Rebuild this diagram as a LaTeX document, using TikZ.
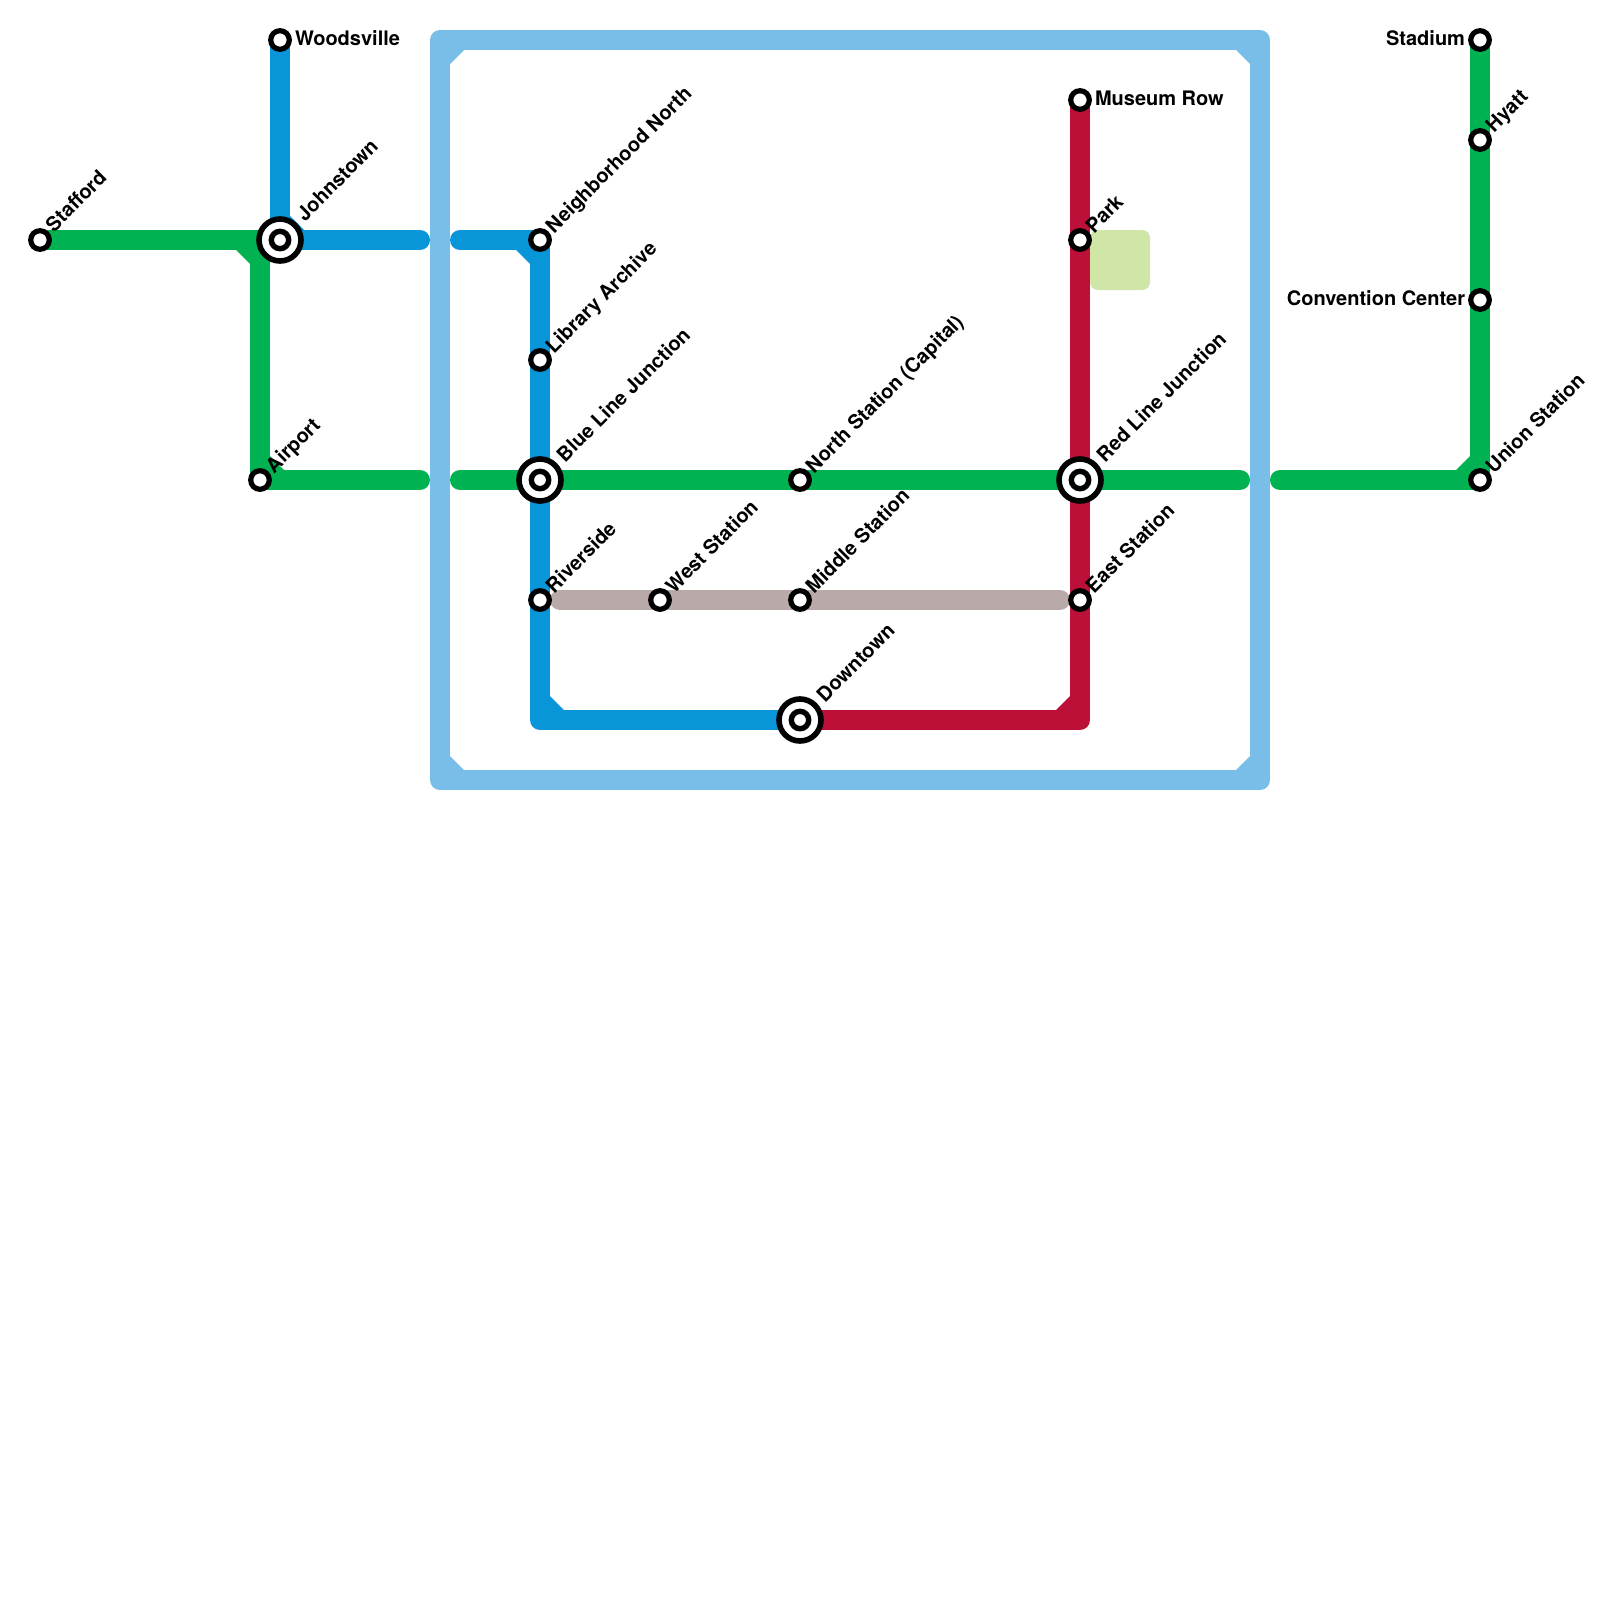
\documentclass[tikz,border=0pt]{standalone}
\usepackage{fontspec}
\setmainfont{TeX Gyre Heros}
\definecolor{cBlue}{HTML}{0996D9}
\definecolor{cLoop}{HTML}{79BDE9}
\definecolor{cGreen}{HTML}{00B251}
\definecolor{cRed}{HTML}{BD1038}
\definecolor{cGrey}{HTML}{B9AAA9}
\definecolor{cPark}{HTML}{D0E6A6}
\pgfdeclarelayer{lines}
\pgfsetlayers{lines,main}
\tikzset{
  x=1pt,y=-1pt,
  station/.style={circle,draw=black,fill=white,line width=5.2pt,minimum size=18.6pt,inner sep=0pt,outer sep=0pt},
  hubouter/.style={circle,draw=black,fill=white,line width=5.6pt,minimum size=42pt,inner sep=0pt,outer sep=0pt},
  hubinner/.style={circle,draw=black,fill=white,line width=5.4pt,minimum size=17.4pt,inner sep=0pt,outer sep=0pt},
  lab/.style={inner sep=0pt,outer sep=0pt,font=\fontsize{20}{24}\selectfont\bfseries,text=black},
  labdiag/.style={lab,rotate=45,anchor=base west},
  labright/.style={lab,anchor=base west},
  lableft/.style={lab,anchor=base east},
  route/.style={line width=20pt,line join=round,line cap=round},
}
\begin{document}
\begin{tikzpicture}
\useasboundingbox (0,0) rectangle (1600,1600);
% stations
\node[station] (stafford) at (40,240) {};
\node[station] (woodsville) at (280,40) {};
\node[station] (airport) at (260,480) {};
\node[hubouter] (johnstown) at (280,240) {};
\node[hubinner] (johnstownI) at (280,240) {};
\node[station] (neighborhood) at (540,240) {};
\node[station] (library) at (540,360) {};
\node[hubouter] (blueJ) at (540,480) {};
\node[hubinner] (blueJI) at (540,480) {};
\node[station] (riverside) at (540,600) {};
\node[station] (west) at (660,600) {};
\node[station] (north) at (800,480) {};
\node[station] (middle) at (800,600) {};
\node[hubouter] (downtown) at (800,720) {};
\node[hubinner] (downtownI) at (800,720) {};
\node[station] (museum) at (1080,100) {};
\node[station] (park) at (1080,240) {};
\node[hubouter] (redJ) at (1080,480) {};
\node[hubinner] (redJI) at (1080,480) {};
\node[station] (east) at (1080,600) {};
\node[station] (stadium) at (1480,40) {};
\node[station] (hyatt) at (1480,140) {};
\node[station] (convention) at (1480,300) {};
\node[station] (union) at (1480,480) {};
% labels
\node[labdiag] (lStafford) at (54,233) {Stafford};
\node[labright] (lWoodsville) at (295,46) {Woodsville};
\node[labdiag] (lJohnstown) at (305,222) {Johnstown};
\node[labdiag] (lAirport) at (274,474) {Airport};
\node[labdiag] (lNeighborhood) at (554,234) {Neighborhood North};
\node[labdiag] (lLibrary) at (554,354) {Library Archive};
\node[labdiag] (lBlueJ) at (565,463) {Blue Line Junction};
\node[labdiag] (lRiverside) at (554,594) {Riverside};
\node[labdiag] (lWest) at (674,594) {West Station};
\node[labdiag] (lNorth) at (814,474) {North Station (Capital)};
\node[labdiag] (lMiddle) at (814,594) {Middle Station};
\node[labdiag] (lDowntown) at (825,703) {Downtown};
\node[labright] (lMuseum) at (1095,106) {Museum Row};
\node[labdiag] (lPark) at (1094,234) {Park};
\node[labdiag] (lRedJ) at (1105,463) {Red Line Junction};
\node[labdiag] (lEast) at (1094,594) {East Station};
\node[lableft] (lStadium) at (1465,46) {Stadium};
\node[labdiag] (lHyatt) at (1494,133) {Hyatt};
\node[lableft] (lConvention) at (1465,305.5) {Convention Center};
\node[labdiag] (lUnion) at (1494,474) {Union Station};
% corners and free ends
\coordinate (gA) at (260,240);
\coordinate (gB) at (420,480);
\coordinate (gC) at (460,480);
\coordinate (gD) at (1240,480);
\coordinate (gE) at (1280,480);
\coordinate (bA) at (280,240);
\coordinate (bB) at (420,240);
\coordinate (bC) at (460,240);
\coordinate (bD) at (540,720);
\coordinate (rA) at (1080,720);
\coordinate (tA) at (560,600);
\coordinate (tB) at (1060,600);
\coordinate (lpA) at (440,40);
\coordinate (lpB) at (1260,40);
\coordinate (lpC) at (1260,780);
\coordinate (lpD) at (440,780);
\begin{pgfonlayer}{lines}
\fill[white] (0,0) rectangle (1600,1600);
\fill[cPark,rounded corners=8pt] (1090,230) rectangle (1150,290);
\draw[route,cLoop] (lpA) -- (lpB) -- (lpC) -- (lpD) -- cycle;
\fill[cLoop] (450,50) -- (464,50) -- (450,64) -- cycle;
\fill[cLoop] (1250,50) -- (1236,50) -- (1250,64) -- cycle;
\fill[cLoop] (1250,770) -- (1236,770) -- (1250,756) -- cycle;
\fill[cLoop] (450,770) -- (464,770) -- (450,756) -- cycle;
\draw[route,cGrey] (tA) -- (tB);
\draw[route,cRed] (museum.center) -- (rA) -- (downtown.center);
\fill[cRed] (1070,710) -- (1056,710) -- (1070,696) -- cycle;
\draw[route,cBlue] (woodsville.center) -- (bA) -- (bB);
\fill[cBlue] (290,230) -- (304,230) -- (290,216) -- cycle;
\draw[route,cBlue] (bC) -- (neighborhood.center) -- (bD) -- (downtown.center);
\fill[cBlue] (530,250) -- (516,250) -- (530,264) -- cycle;
\fill[cBlue] (550,710) -- (564,710) -- (550,696) -- cycle;
\draw[route,cGreen] (stafford.center) -- (gA) -- (airport.center) -- (gB);
\fill[cGreen] (250,250) -- (236,250) -- (250,264) -- cycle;
\fill[cGreen] (270,470) -- (284,470) -- (270,456) -- cycle;
\draw[route,cGreen] (gC) -- (gD);
\draw[route,cGreen] (gE) -- (union.center) -- (stadium.center);
\fill[cGreen] (1470,470) -- (1456,470) -- (1470,456) -- cycle;
\end{pgfonlayer}
\end{tikzpicture}
\end{document}
